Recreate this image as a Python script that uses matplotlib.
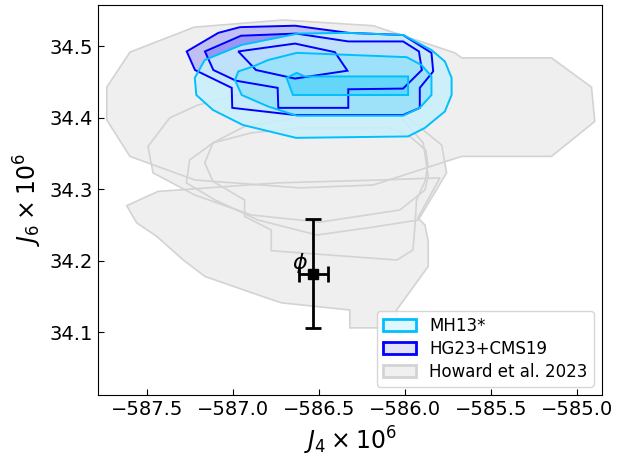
import matplotlib
matplotlib.use('Agg')
import matplotlib.pyplot as plt
from matplotlib.patches import Patch

# Howard et al. 2023 contours (J4 x 1e6, J6 x 1e6)
howard_1_j4 = [-587.601, -587.227, -586.709, -586.186, -585.711, -585.672, -585.149, -584.916,
               -584.897, -585.149, -585.672, -586.186, -586.612, -587.223, -587.601, -587.736, -587.736]
howard_1_j6 = [34.492, 34.527, 34.537, 34.529, 34.491, 34.484, 34.484, 34.443,
               34.395, 34.346, 34.346, 34.306, 34.302, 34.313, 34.346, 34.397, 34.443]

howard_2_j4 = [-586.544, -586.224, -586.031, -585.895, -585.866, -585.885, -586.031, -586.496,
               -586.895, -587.224, -587.467, -587.496, -587.370, -587.205, -586.895, -586.566]
howard_2_j6 = [34.442, 34.430, 34.402, 34.365, 34.318, 34.299, 34.271, 34.254,
               34.264, 34.292, 34.323, 34.360, 34.400, 34.418, 34.437, 34.442]

howard_3_j4 = [-586.612, -586.895, -587.118, -587.166, -587.118, -586.934, -586.934, -586.779, -586.779,
               -586.048, -585.955, -585.944, -585.934, -585.885, -585.868, -585.880, -585.973, -586.089]
howard_3_j6 = [34.386, 34.379, 34.365, 34.337, 34.311, 34.285, 34.262, 34.243, 34.214,
               34.201, 34.215, 34.246, 34.285, 34.311, 34.334, 34.355, 34.374, 34.386]

howard_4_j4 = [-586.566, -586.934, -587.118, -587.254, -587.273, -587.106, -586.856, -586.513,
               -586.188, -585.924, -585.759, -585.788, -585.992, -586.263]
howard_4_j6 = [34.402, 34.388, 34.365, 34.341, 34.309, 34.285, 34.257, 34.236,
               34.247, 34.257, 34.323, 34.362, 34.402, 34.409]

howard_5_j4 = [-587.620, -587.438, -586.740, -586.147, -585.798, -585.926, -585.885, -585.866, -585.866,
               -586.050, -586.050, -586.322, -586.322, -586.719, -586.855, -587.165, -587.291, -587.445, -587.562]
howard_5_j6 = [34.277, 34.297, 34.309, 34.313, 34.316, 34.260, 34.250, 34.227, 34.192,
               34.131, 34.106, 34.106, 34.131, 34.141, 34.152, 34.178, 34.201, 34.234, 34.253]

# MH13* contours
mh13_1_j4 = [-587.166, -586.953, -586.624, -586.331, -586.012, -585.847, -585.769, -585.730, -585.730,
             -585.769, -585.885, -585.983, -586.635, -586.944, -587.118, -587.215, -587.224]
mh13_1_j6 = [34.481, 34.502, 34.518, 34.519, 34.516, 34.495, 34.479, 34.456, 34.432,
             34.409, 34.386, 34.374, 34.372, 34.390, 34.411, 34.432, 34.456]

mh13_2_j4 = [-586.990, -586.951, -586.798, -586.631, -586.012, -585.915, -585.847, -585.847,
             -585.905, -585.992, -586.631, -586.797, -586.884, -586.971]
mh13_2_j6 = [34.453, 34.432, 34.416, 34.403, 34.403, 34.414, 34.432, 34.458,
             34.474, 34.485, 34.491, 34.481, 34.472, 34.465]

mh13_3_j4 = [-586.690, -586.631, -586.583, -585.983, -585.983, -586.653]
mh13_3_j6 = [34.456, 34.463, 34.458, 34.458, 34.432, 34.432]

# HG23+CMS19 contours
hg23_1_j4 = [-587.271, -587.223, -587.009, -587.006, -586.641, -586.012, -585.915, -585.915,
             -585.837, -585.847, -586.012, -586.331, -586.641, -586.961, -587.087]
hg23_1_j6 = [34.493, 34.467, 34.442, 34.414, 34.404, 34.404, 34.414, 34.442,
             34.465, 34.491, 34.516, 34.519, 34.529, 34.527, 34.519]

hg23_2_j4 = [-587.165, -587.116, -586.984, -586.742, -586.738, -586.331, -586.331, -586.012,
             -585.903, -585.920, -586.012, -586.331, -586.633, -586.955]
hg23_2_j6 = [34.493, 34.467, 34.452, 34.442, 34.414, 34.414, 34.440, 34.441,
             34.467, 34.493, 34.507, 34.507, 34.518, 34.515]

hg23_3_j4 = [-586.971, -586.868, -586.641, -586.336, -586.409, -586.641]
hg23_3_j6 = [34.493, 34.467, 34.455, 34.466, 34.492, 34.504]

# observed value
obs_j4, obs_j4_err = -586.535, 0.084
obs_j6, obs_j6_err = 34.182, 0.076
jup_j4, jup_j6 = -586.612, 34.197

howard = [(howard_1_j4, howard_1_j6), (howard_2_j4, howard_2_j6), (howard_3_j4, howard_3_j6),
          (howard_4_j4, howard_4_j6), (howard_5_j4, howard_5_j6)]
mh13 = [(mh13_1_j4, mh13_1_j6), (mh13_2_j4, mh13_2_j6), (mh13_3_j4, mh13_3_j6)]
hg23 = [(hg23_1_j4, hg23_1_j6), (hg23_2_j4, hg23_2_j6), (hg23_3_j4, hg23_3_j6)]
mh13_face = ['#c7f0fc', '#98e2fa', '#59d5fa']

fig = plt.figure(figsize=(6.39, 4.57), dpi=100)
ax = fig.add_axes([98/639, 1-395/457, 504/639, 390/457])

for x, y in howard:
    ax.fill(x, y, color='#efefef', lw=0, zorder=1)
for x, y in howard:
    ax.fill(x, y, fill=False, edgecolor='#d3d3d3', lw=1.2, zorder=1.5)

for x, y in hg23:
    ax.fill(x, y, color='blue', alpha=0.2, lw=0, zorder=2)
for (x, y), c in zip(mh13, mh13_face):
    ax.fill(x, y, color=c, alpha=0.85, lw=0, zorder=3)
for x, y in hg23:
    ax.fill(x, y, fill=False, edgecolor='blue', lw=1.4, zorder=4)
for x, y in mh13:
    ax.fill(x, y, fill=False, edgecolor='deepskyblue', lw=1.4, zorder=4)

ax.errorbar(obs_j4, obs_j6, xerr=obs_j4_err, yerr=obs_j6_err, fmt='s', color='k',
            ms=7, capsize=6, elinewidth=2, capthick=2, zorder=6)
ax.text(jup_j4, jup_j6, r'$\phi$', fontsize=16, ha='center', va='center', zorder=6)

ax.set_xlim(-587.787, -584.855)
ax.set_ylim(34.012, 34.558)
ax.set_xticks([-587.5, -587.0, -586.5, -586.0, -585.5, -585.0])
ax.set_yticks([34.1, 34.2, 34.3, 34.4, 34.5])
ax.tick_params(direction='in', labelsize=14, length=4)
ax.set_xlabel(r'$J_4\times10^6$', fontsize=17)
ax.set_ylabel(r'$J_6\times10^6$', fontsize=17)

handles = [Patch(facecolor='#dff8ff', edgecolor='deepskyblue', lw=2, label='MH13*'),
           Patch(facecolor='#e2e2f8', edgecolor='blue', lw=2, label='HG23+CMS19'),
           Patch(facecolor='#f0f0f0', edgecolor='#d3d3d3', lw=2, label='Howard et al. 2023')]
ax.legend(handles=handles, loc='lower right', fontsize=12, labelspacing=0.3,
          borderpad=0.35)

fig.savefig('out.png', dpi=100)
